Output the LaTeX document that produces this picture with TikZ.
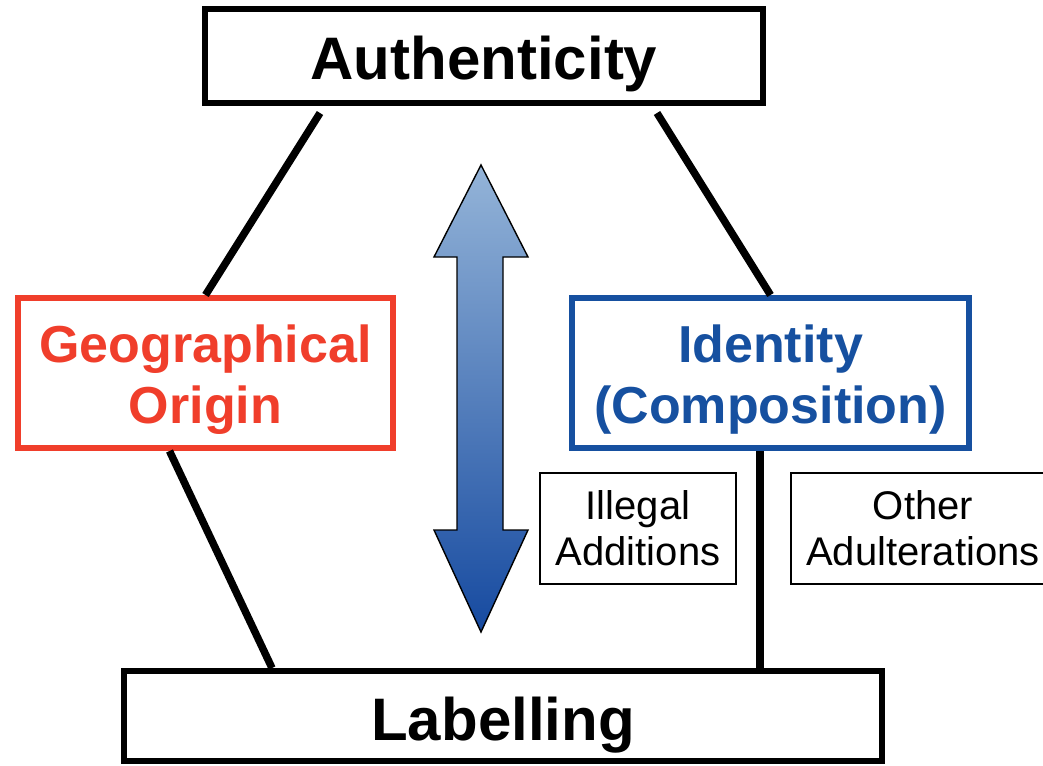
\documentclass[tikz,border=0pt]{standalone}
\usepackage{fontspec}
\setmainfont{Liberation Sans}
\definecolor{geored}{RGB}{240,62,43}
\definecolor{idblue}{RGB}{22,80,160}
\definecolor{arrowtop}{RGB}{148,180,216}
\definecolor{arrowbot}{RGB}{22,74,160}
\tikzset{
    bigbox/.style={draw, line width=6pt, inner sep=0pt,
        font=\bfseries\fontsize{60}{66}\selectfont, text height=48pt, text depth=0pt},
    midbox/.style={draw=#1, text=#1, line width=6pt, inner sep=0pt,
        minimum width=375pt, minimum height=150pt, align=center,
        text height=108pt, text depth=8pt,
        font=\bfseries\fontsize{52}{61}\selectfont},
    smallbox/.style={draw, line width=2pt, inner sep=0pt,
        minimum width=196pt, minimum height=111pt, align=center,
        font=\fontsize{40}{46}\selectfont},
    link/.style={line width=7.5pt},
}

\begin{document}
\begin{tikzpicture}[x=1pt, y=-1pt]

    \useasboundingbox (0,0) rectangle (1043,765);

    \node[bigbox, minimum width=558pt, minimum height=94pt] (auth) at (484,56) {Authenticity};
    \node[bigbox, minimum width=758pt, minimum height=90pt] (lab) at (503,716) {Labelling};
    \node[midbox=geored] (geo) at (205.5,373) {Geographical\\Origin};
    \node[midbox=idblue, minimum width=397pt] (ident) at (770.5,373) {Identity\\(Composition)};
    \node[smallbox] (illegal) at (638,528.5) {Illegal\\Additions};
    \node[smallbox, minimum width=264pt] (other) at (923,528.5) {Other\\Adulterations};

    \coordinate (authL) at ([shift={(118,7)}]auth.south west);
    \coordinate (authR) at ([shift={(-109,7)}]auth.south east);

    \draw[link] (authL) -- (geo.north);
    \draw[link] (authR) -- (ident.north);
    \draw[link] ([xshift=-36pt]geo.south) -- ([xshift=-231pt]lab.north);
    \draw[link] ([xshift=-10.5pt]ident.south) -- ([xshift=-10.5pt]ident.south |- lab.north);

    % double arrow between origin and identity
    \shadedraw[top color=arrowtop, bottom color=arrowbot, draw=black, line width=1.4pt]
        (481,165) -- (528,257) -- (503,257) -- (503,530) -- (528,530)
        -- (481,632) -- (434,530) -- (457,530) -- (457,257) -- (434,257) -- cycle;

\end{tikzpicture}
\end{document}
